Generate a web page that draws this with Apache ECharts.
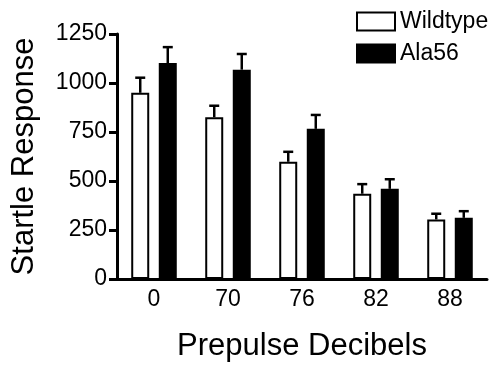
<!DOCTYPE html>
<html>
<head>
<meta charset="utf-8">
<script src="https://cdn.jsdelivr.net/npm/echarts@6/dist/echarts.min.js"></script>
<style>
  html, body { margin: 0; padding: 0; background: #fff; }
  #chart { width: 490px; height: 367px; }
</style>
</head>
<body>
<div id="chart"></div>
<script>
// Prepulse levels (dB) on the x axis
const categories = ['0', '70', '76', '82', '88'];
// Mean startle response and its SEM for each genotype
const wildtypeMean = [950, 825, 598, 435, 304];
const wildtypeErr  = [77, 59, 51, 49, 29];
const ala56Mean    = [1102, 1068, 766, 460, 312];
const ala56Err     = [81, 80, 71, 49, 34];
// Y axis range and ticks
const yMin = 0, yMax = 1250, yStep = 250;

const FONT = 'Liberation Sans, Arial, sans-serif';
const BAR_W = 18;
const BAR_GAP = 0.53;
const HALF_SPACING = BAR_W * (1 + BAR_GAP) / 2;

function errorSeries(means, errs, dir) {
  return {
    type: 'custom',
    silent: true,
    z: 3,
    data: means.map((m, i) => [i, m, m + errs[i]]),
    renderItem: function (params, api) {
      const base = api.coord([api.value(0), api.value(1)]);
      const top = api.coord([api.value(0), api.value(2)]);
      const x = base[0] + dir * HALF_SPACING;
      const capHalf = 5;
      const style = { stroke: '#000', lineWidth: 2.5 };
      return {
        type: 'group',
        children: [
          { type: 'line', shape: { x1: x, y1: base[1], x2: x, y2: top[1] }, style: style },
          { type: 'line', shape: { x1: x - capHalf, y1: top[1], x2: x + capHalf, y2: top[1] }, style: style }
        ]
      };
    }
  };
}

const chart = echarts.init(document.getElementById('chart'));
chart.setOption({
  animation: false,
  backgroundColor: '#fff',
  textStyle: { fontFamily: FONT, color: '#000' },
  grid: { left: 117, right: 3, top: 34, bottom: 85, containLabel: false },
  legend: {
    orient: 'vertical',
    left: 351,
    top: 5,
    itemWidth: 38,
    itemHeight: 18,
    itemGap: 9,
    icon: 'rect',
    textStyle: { fontFamily: FONT, fontSize: 23, color: '#000' },
    data: ['Wildtype', 'Ala56']
  },
  xAxis: {
    type: 'category',
    data: categories,
    boundaryGap: true,
    axisLine: { lineStyle: { color: '#000', width: 3 } },
    axisTick: { show: false },
    axisLabel: { color: '#000', fontSize: 23, fontFamily: FONT, margin: 9 },
    name: 'Prepulse Decibels',
    nameLocation: 'middle',
    nameGap: 52,
    nameTextStyle: { color: '#000', fontSize: 31, fontFamily: FONT }
  },
  yAxis: {
    type: 'value',
    min: yMin,
    max: yMax,
    interval: yStep,
    splitLine: { show: false },
    axisLine: { show: true, lineStyle: { color: '#000', width: 3 } },
    axisTick: { show: true, length: 8, lineStyle: { color: '#000', width: 3 } },
    axisLabel: {
      color: '#000', fontSize: 23, fontFamily: FONT, margin: 10,
      formatter: function (v) { return String(v); }
    },
    name: 'Startle Response',
    nameLocation: 'middle',
    nameGap: 77,
    nameTextStyle: { color: '#000', fontSize: 31, fontFamily: FONT }
  },
  series: [
    {
      name: 'Wildtype',
      type: 'bar',
      data: wildtypeMean,
      barWidth: BAR_W,
      barGap: (BAR_GAP * 100) + '%',
      itemStyle: { color: '#fff', borderColor: '#000', borderWidth: 2 }
    },
    {
      name: 'Ala56',
      type: 'bar',
      data: ala56Mean,
      barWidth: BAR_W,
      barGap: (BAR_GAP * 100) + '%',
      itemStyle: { color: '#000', borderColor: '#000', borderWidth: 2 }
    },
    errorSeries(wildtypeMean, wildtypeErr, -1),
    errorSeries(ala56Mean, ala56Err, 1)
  ]
});
</script>
</body>
</html>
